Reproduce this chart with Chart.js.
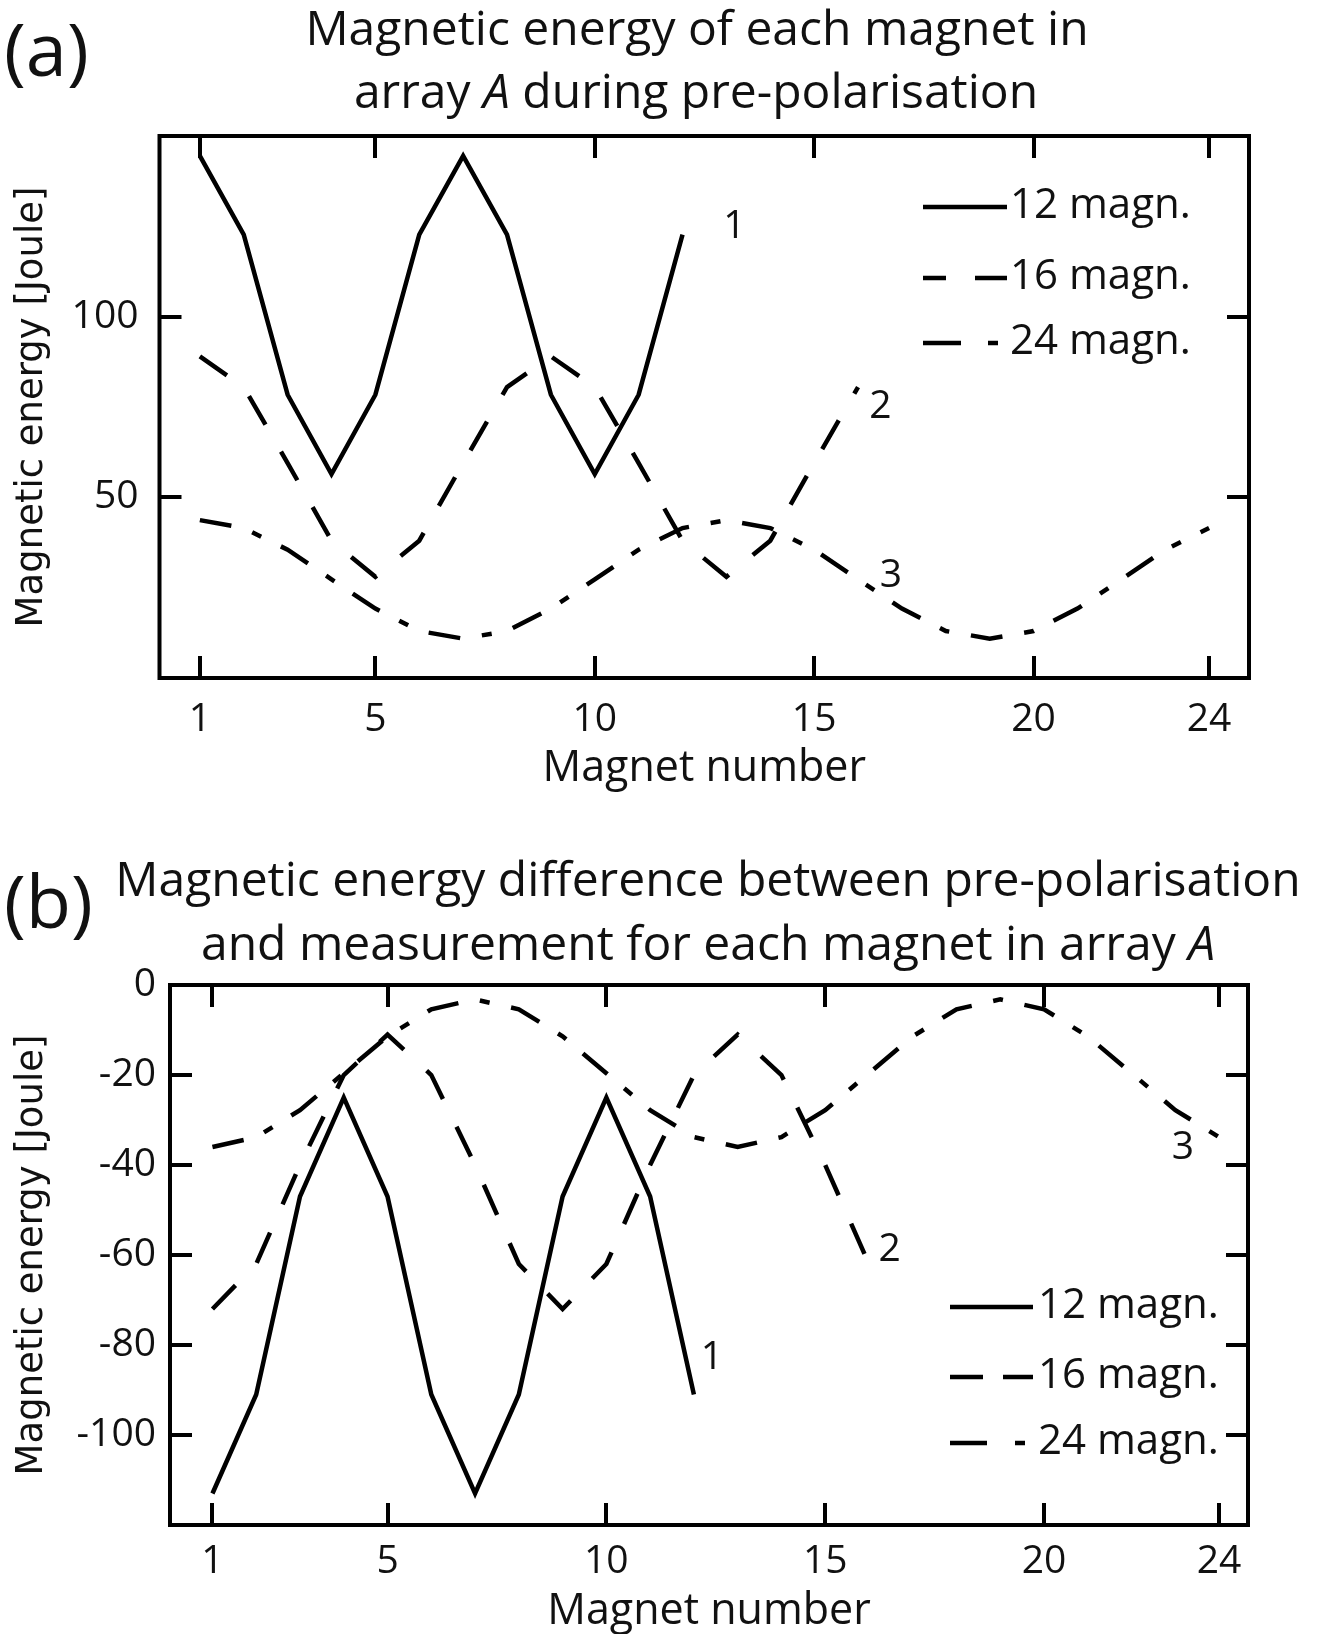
<!DOCTYPE html>
<html>
<head>
<meta charset="utf-8">
<title>Magnetic energy</title>
<script src="https://cdn.jsdelivr.net/npm/chart.js@4.4.1/dist/chart.umd.min.js"></script>
<style>
  body { margin: 0; background: #fff; }
  canvas { display: block; }
</style>
</head>
<body>
<canvas id="chartA" width="1318" height="817"></canvas>
<canvas id="chartB" width="1318" height="817"></canvas>
<script>
// magnet index along the array
var magnetNo = [1, 2, 3, 4, 5, 6, 7, 8, 9, 10, 11, 12, 13, 14, 15, 16, 17, 18, 19, 20, 21, 22, 23, 24];
var xTickValues = [1, 5, 10, 15, 20, 24];

// (a) energy during pre-polarisation [J]
var prePol12 = [144.5, 122.7, 78.4, 56.4, 78.4, 122.7, 144.5, 122.7, 78.4, 56.4, 78.4, 122.7];
var prePol16 = [89, 80.5, 59.5, 38, 28, 38, 59.5, 80.5, 89, 80.5, 59.5, 38, 28, 38, 59.5, 80.5];
var prePol24 = [43.7, 41.5, 35.5, 27.3, 19.2, 13, 10.9, 13, 19.2, 27.3, 35.5, 41.5,
                43.7, 41.5, 35.5, 27.3, 19.2, 13, 10.9, 13, 19.2, 27.3, 35.5, 41.5];
var yTicksA = [50, 100];

// (b) energy difference pre-polarisation vs measurement [J]
var diff12 = [-113, -91, -47, -25, -47, -91, -113, -91, -47, -25, -47, -91];
var diff16 = [-72, -62, -40, -20, -11, -20, -40, -62, -72, -62, -40, -20, -11, -20, -40, -62];
var diff24 = [-36, -33.8, -27.8, -19.6, -11.4, -5.4, -3.2, -5.4, -11.4, -19.6, -27.8, -33.8,
              -36, -33.8, -27.8, -19.6, -11.4, -5.4, -3.2, -5.4, -11.4, -19.6, -27.8, -33.8];
var yTicksB = [0, -20, -40, -60, -80, -100];

var seriesNames = ['12 magn.', '16 magn.', '24 magn.'];

Chart.defaults.font.family = '"Open Sans", sans-serif';
Chart.defaults.color = '#111';

function points(values) {
  return values.map(function (v, i) { return { x: magnetNo[i], y: v }; });
}

function drawRich(ctx, segs, cx, y, size) {
  // odd segments are set in italics
  var fonts = segs.map(function (s, i) { return (i % 2 ? 'italic ' : '') + size + 'px "Open Sans"'; });
  var widths = segs.map(function (s, i) { ctx.font = fonts[i]; return ctx.measureText(s).width; });
  var total = widths.reduce(function (a, b) { return a + b; }, 0);
  var x = cx - total / 2;
  segs.forEach(function (s, i) {
    ctx.font = fonts[i];
    ctx.fillText(s, x, y);
    x += widths[i];
  });
}

var decor = {
  id: 'decor',
  afterDraw: function (chart, args, opts) {
    var ctx = chart.ctx;
    var area = chart.chartArea;
    ctx.save();

    ctx.lineWidth = 4;
    ctx.strokeStyle = '#000';
    ctx.strokeRect(area.left, area.top, area.right - area.left, area.bottom - area.top);

    ctx.fillStyle = '#111';
    ctx.textAlign = 'left';
    ctx.textBaseline = 'alphabetic';
    ctx.font = '74px "Open Sans"';
    ctx.fillText(opts.panel, opts.panelX, opts.panelY);

    opts.title.forEach(function (line) {
      drawRich(ctx, line.segs, line.cx, line.y, 48);
    });

    // legend: line sample and name for each dataset
    var lg = opts.legend;
    chart.data.datasets.forEach(function (ds, i) {
      var rowY = lg.rows[i];
      ctx.strokeStyle = '#000';
      ctx.lineWidth = 4.5;
      ctx.setLineDash(lg.dashes[i]);
      ctx.lineDashOffset = lg.offsets[i];
      ctx.beginPath();
      ctx.moveTo(lg.x0, rowY);
      ctx.lineTo(lg.x1, rowY);
      ctx.stroke();
      ctx.setLineDash([]);
      ctx.font = '42px "Open Sans"';
      ctx.textBaseline = 'middle';
      ctx.fillText(ds.label, lg.textX, rowY - 1);
    });

    // curve numbers next to the line ends
    var xs = chart.scales.x, ys = chart.scales.y;
    ctx.font = '39px "Open Sans"';
    ctx.textAlign = 'center';
    ctx.textBaseline = 'middle';
    opts.tags.forEach(function (t) {
      ctx.fillText(t.text, xs.getPixelForValue(t.x), ys.getPixelForValue(t.y));
    });

    ctx.restore();
  }
};

function makeChart(id, c) {
  var H = 817;
  var grid = { drawOnChartArea: false, drawTicks: true, tickLength: -22, color: '#000', lineWidth: 4 };
  var setX = function (s) { s.ticks = xTickValues.map(function (v) { return { value: v }; }); };
  var setY = function (s) { s.ticks = c.yTicks.map(function (v) { return { value: v }; }); };

  return new Chart(document.getElementById(id), {
    type: 'line',
    data: {
      datasets: [
        { label: seriesNames[0], data: points(c.s12), borderDash: [] },
        { label: seriesNames[1], data: points(c.s16), borderDash: [33, 31] },
        { label: seriesNames[2], data: points(c.s24), borderDash: [32, 22, 10, 22] }
      ].map(function (d) {
        d.borderColor = '#000';
        d.borderWidth = 4.5;
        d.pointRadius = 0;
        d.fill = false;
        d.tension = 0;
        return d;
      })
    },
    options: {
      responsive: false,
      animation: false,
      devicePixelRatio: 1,
      layout: { padding: { top: c.area.top, left: 0, right: 0, bottom: 0 } },
      plugins: {
        legend: { display: false },
        tooltip: { enabled: false },
        decor: c.decor
      },
      scales: {
        x: {
          type: 'linear', position: 'bottom', min: c.xMin, max: c.xMax, bounds: 'data',
          afterBuildTicks: setX,
          afterFit: function (s) { s.height = H - c.area.bottom; },
          grid: grid, border: { display: false },
          ticks: { autoSkip: false, maxRotation: 0, padding: c.xTickPad, font: { size: 39, lineHeight: 1 } },
          title: { display: true, text: 'Magnet number', font: { size: 43, lineHeight: 0.7 },
                   padding: { top: 0, bottom: c.xTitlePad } }
        },
        xTop: {
          type: 'linear', position: 'top', min: c.xMin, max: c.xMax, bounds: 'data',
          afterBuildTicks: setX,
          afterFit: function (s) { s.height = 0; },
          grid: grid, border: { display: false },
          ticks: { display: false }
        },
        y: {
          type: 'linear', position: 'left', min: c.yMin, max: c.yMax, bounds: 'data',
          afterBuildTicks: setY,
          afterFit: function (s) { s.width = c.area.left; },
          grid: grid, border: { display: false },
          ticks: { padding: c.yTickPad, font: { size: 39, lineHeight: 1 } },
          title: { display: true, text: 'Magnetic energy [Joule]',
                   font: { family: '"DejaVu Sans", sans-serif', size: 37, lineHeight: 1 },
                   padding: { top: 14, bottom: 0 } }
        },
        yRight: {
          type: 'linear', position: 'right', min: c.yMin, max: c.yMax, bounds: 'data',
          afterBuildTicks: setY,
          afterFit: function (s) { s.width = 1318 - c.area.right; },
          grid: grid, border: { display: false },
          ticks: { display: false }
        }
      }
    },
    plugins: [decor]
  });
}

makeChart('chartA', {
  s12: prePol12, s16: prePol16, s24: prePol24,
  xMin: 0.08, xMax: 24.91, yMin: 0, yMax: 150, yTicks: yTicksA,
  area: { left: 159.5, right: 1249, top: 136, bottom: 678 },
  yTickPad: 43, xTickPad: 44, xTitlePad: 33,
  decor: {
    panel: '(a)', panelX: 4, panelY: 76,
    title: [
      { segs: ['Magnetic energy of each magnet in'], cx: 697, y: 45 },
      { segs: ['array ', 'A', ' during pre-polarisation'], cx: 696, y: 108 }
    ],
    legend: {
      x0: 923, x1: 1007, textX: 1010, rows: [207, 278, 343],
      dashes: [[], [33, 29], [38, 27, 10, 27]], offsets: [0, 10, 0]
    },
    tags: [
      { text: '1', x: 13.18, y: 124.8 },
      { text: '2', x: 16.51, y: 74.9 },
      { text: '3', x: 16.75, y: 28.2 }
    ]
  }
});

makeChart('chartB', {
  s12: diff12, s16: diff16, s24: diff24,
  xMin: 0.03, xMax: 24.66, yMin: -120, yMax: 0, yTicks: yTicksB,
  area: { left: 170, right: 1248, top: 168, bottom: 708 },
  yTickPad: 36, xTickPad: 39, xTitlePad: 7,
  decor: {
    panel: '(b)', panelX: 4, panelY: 111,
    title: [
      { segs: ['Magnetic energy difference between pre-polarisation'], cx: 708, y: 79 },
      { segs: ['and measurement for each magnet in array ', 'A'], cx: 708, y: 143 }
    ],
    legend: {
      x0: 950, x1: 1033, textX: 1038, rows: [490, 560, 626],
      dashes: [[], [33, 20], [37, 28, 10, 28]], offsets: [0, 0, 0]
    },
    tags: [
      { text: '1', x: 12.41, y: -82.9 },
      { text: '2', x: 16.47, y: -58.9 },
      { text: '3', x: 23.17, y: -36.2 }
    ]
  }
});
</script>
</body>
</html>
